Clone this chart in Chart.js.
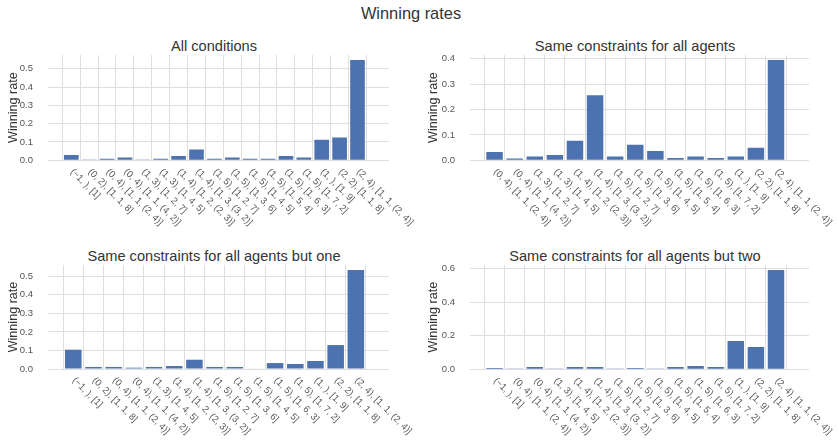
<!DOCTYPE html>
<html>
<head>
<meta charset="utf-8">
<script src="https://cdn.jsdelivr.net/npm/chart.js@4/dist/chart.umd.min.js"></script>
<style>
  body { margin: 0; background: #fff; width: 839px; height: 440px; overflow: hidden; position: relative;
         font-family: "Liberation Sans", Arial, sans-serif; }
  canvas { position: absolute; }
  .ttl { position: absolute; color: #333; white-space: nowrap; transform: translate(-50%, -50%); }
</style>
</head>
<body>
<div class="ttl" style="left:411px;top:13px;font-size:16.4px">Winning rates</div>
<div class="ttl" style="left:214px;top:46px;font-size:14.6px">All conditions</div>
<div class="ttl" style="left:635px;top:46px;font-size:14.6px">Same constraints for all agents</div>
<div class="ttl" style="left:214px;top:256px;font-size:14.6px">Same constraints for all agents but one</div>
<div class="ttl" style="left:635px;top:256px;font-size:14.6px">Same constraints for all agents but two</div>

<canvas id="c1" width="420" height="210" style="left:0;top:30px"></canvas>
<canvas id="c2" width="419" height="210" style="left:420px;top:30px"></canvas>
<canvas id="c3" width="420" height="200" style="left:0;top:240px"></canvas>
<canvas id="c4" width="419" height="200" style="left:420px;top:240px"></canvas>

<script>
// Configuration labels: (constraint), [agent split]
const labelsAll = [
  "(−1, ), [1]", "(0, 2), [1, 1, 8]", "(0, 4), [1, 1, (2, 4)]", "(0, 4), [1, 1, (4, 2)]",
  "(1, 3), [1, 2, 7]", "(1, 3), [1, 4, 5]", "(1, 4), [1, 2, (2, 3)]", "(1, 4), [1, 3, (3, 2)]",
  "(1, 5), [1, 2, 7]", "(1, 5), [1, 3, 6]", "(1, 5), [1, 4, 5]", "(1, 5), [1, 5, 4]",
  "(1, 5), [1, 6, 3]", "(1, 5), [1, 7, 2]", "(1, ), [1, 9]", "(2, 2), [1, 1, 8]", "(2, 4), [1, 1, (2, 4)]"
];
const ratesAll = [0.029, 0.005, 0.009, 0.015, 0.005, 0.009, 0.024, 0.059, 0.009, 0.015, 0.009, 0.009,
  0.024, 0.015, 0.112, 0.125, 0.548];

const labelsSame = [
  "(0, 4), [1, 1, (2, 4)]", "(0, 4), [1, 1, (4, 2)]", "(1, 3), [1, 2, 7]", "(1, 3), [1, 4, 5]",
  "(1, 4), [1, 2, (2, 3)]", "(1, 4), [1, 3, (3, 2)]", "(1, 5), [1, 2, 7]", "(1, 5), [1, 3, 6]",
  "(1, 5), [1, 4, 5]", "(1, 5), [1, 5, 4]", "(1, 5), [1, 6, 3]", "(1, 5), [1, 7, 2]",
  "(1, ), [1, 9]", "(2, 2), [1, 1, 8]", "(2, 4), [1, 1, (2, 4)]"
];
const ratesSame = [0.033, 0.007, 0.015, 0.021, 0.077, 0.256, 0.015, 0.061, 0.037, 0.009, 0.015, 0.009,
  0.015, 0.049, 0.395];

const labelsButOne = [
  "(−1, ), [1]", "(0, 2), [1, 1, 8]", "(0, 4), [1, 1, (2, 4)]", "(0, 4), [1, 1, (4, 2)]",
  "(1, 3), [1, 4, 5]", "(1, 4), [1, 2, (2, 3)]", "(1, 4), [1, 3, (3, 2)]", "(1, 5), [1, 2, 7]",
  "(1, 5), [1, 3, 6]", "(1, 5), [1, 4, 5]", "(1, 5), [1, 6, 3]", "(1, 5), [1, 7, 2]",
  "(1, ), [1, 9]", "(2, 2), [1, 1, 8]", "(2, 4), [1, 1, (2, 4)]"
];
const ratesButOne = [0.104, 0.011, 0.011, 0.007, 0.011, 0.016, 0.050, 0.011, 0.011, 0.003, 0.032, 0.027,
  0.043, 0.129, 0.534];

const labelsButTwo = [
  "(−1, ), [1]", "(0, 4), [1, 1, (2, 4)]", "(0, 4), [1, 1, (4, 2)]", "(1, 3), [1, 4, 5]",
  "(1, 4), [1, 2, (2, 3)]", "(1, 4), [1, 3, (3, 2)]", "(1, 5), [1, 2, 7]", "(1, 5), [1, 3, 6]",
  "(1, 5), [1, 4, 5]", "(1, 5), [1, 5, 4]", "(1, 5), [1, 6, 3]", "(1, 5), [1, 7, 2]",
  "(1, ), [1, 9]", "(2, 2), [1, 1, 8]", "(2, 4), [1, 1, (2, 4)]"
];
const ratesButTwo = [0.008, 0.005, 0.014, 0.005, 0.014, 0.014, 0.005, 0.008, 0.005, 0.014, 0.020, 0.014,
  0.169, 0.133, 0.592];

const FONT = '"Liberation Sans", Arial, sans-serif';
const BAR = '#4c72b0';
const GRID = '#dedede';

// Draws the category names slanting down to the right from each tick.
const slantLabels = {
  id: 'slantLabels',
  afterDraw(chart, args, opts) {
    const xs = chart.scales.x, ctx = chart.ctx;
    ctx.save();
    ctx.font = '9.5px ' + FONT;
    ctx.fillStyle = '#555';
    ctx.textAlign = 'left';
    ctx.textBaseline = 'middle';
    opts.labels.forEach((lab, i) => {
      const x = xs.getPixelForValue(i);
      ctx.save();
      ctx.translate(x + 0.5, xs.top + 10);
      ctx.rotate(Math.PI / 4);
      ctx.fillText(lab, 0, 0);
      ctx.restore();
    });
    ctx.restore();
  }
};

function makePanel(id, labels, rates, step, box) {
  const cv = document.getElementById(id);
  const W = cv.width, H = cv.height;
  const yMax = Math.max(...rates) * 1.05;
  return new Chart(cv, {
    type: 'bar',
    data: {
      datasets: [{
        data: rates.map((v, i) => ({ x: i, y: v })),
        backgroundColor: BAR,
        borderWidth: 0,
        barPercentage: 0.82,
        categoryPercentage: 1
      }]
    },
    options: {
      responsive: false,
      animation: false,
      devicePixelRatio: 1,
      layout: { padding: { top: box.top, right: W - box.right, bottom: 0, left: 0 } },
      plugins: {
        legend: { display: false },
        tooltip: { enabled: false },
        slantLabels: { labels }
      },
      scales: {
        x: {
          type: 'linear',
          min: -box.padL,
          max: labels.length - 1 + box.padR,
          afterBuildTicks: s => { s.ticks = labels.map((_, i) => ({ value: i })); },
          ticks: { display: false },
          grid: { color: GRID, lineWidth: 1, drawTicks: false },
          border: { display: false },
          afterFit: s => { s.height = H - box.bottom; }
        },
        y: {
          min: 0,
          max: yMax,
          afterBuildTicks: s => {
            const t = [];
            for (let k = 0; k * step <= yMax + 1e-9; k++) t.push({ value: +(k * step).toFixed(2) });
            s.ticks = t;
          },
          ticks: { callback: v => v.toFixed(1), font: { size: 9.5, family: FONT }, color: '#555', padding: 15 },
          grid: { color: GRID, lineWidth: 1, drawTicks: false },
          border: { display: false },
          title: { display: true, text: 'Winning rate', color: '#333',
                   font: { size: 12.6, family: FONT }, padding: { top: 6, bottom: 0 } },
          afterFit: s => { s.width = box.left; }
        }
      }
    },
    plugins: [slantLabels]
  });
}

makePanel('c1', labelsAll, ratesAll, 0.1, { left: 48, right: 389, top: 25, bottom: 130.3, padL: 0.74, padR: 1.2 });
makePanel('c2', labelsSame, ratesSame, 0.1, { left: 50, right: 389, top: 25, bottom: 130.3, padL: 0.66, padR: 1.08 });
makePanel('c3', labelsButOne, ratesButOne, 0.1, { left: 48, right: 389, top: 25, bottom: 129, padL: 0.69, padR: 1.08 });
makePanel('c4', labelsButTwo, ratesButTwo, 0.2, { left: 50, right: 389, top: 25, bottom: 129.3, padL: 0.66, padR: 1.08 });
</script>
</body>
</html>
